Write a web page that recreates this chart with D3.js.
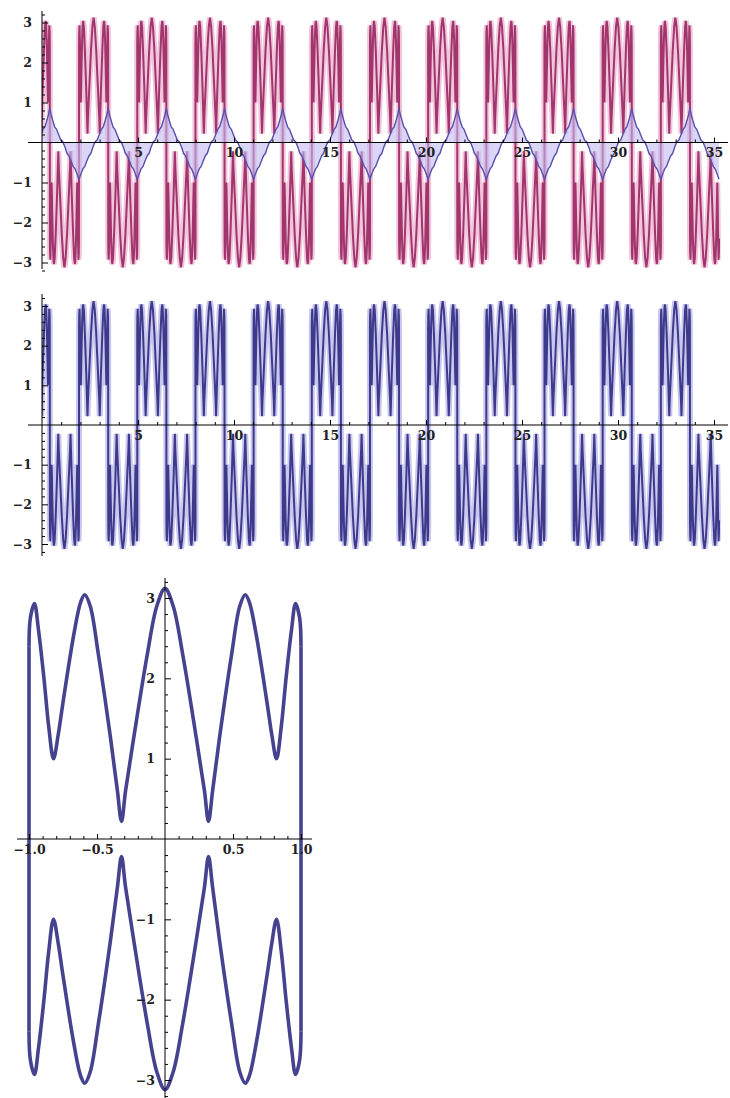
<!DOCTYPE html>
<html>
<head>
<meta charset="utf-8">
<script src="https://cdn.jsdelivr.net/npm/d3@7"></script>
<style>
  body { margin: 0; background: #fff; }
  svg { display: block; }
  .tick text { font-family: "DejaVu Serif", serif; font-size: 12.5px; font-weight: bold; fill: #222; }
</style>
</head>
<body>
<script>
//one branch of the closed curve (bottom panel)
const shapeU = [-1.0, -0.99, -0.96, -0.93, -0.89, -0.855, -0.82, -0.785, -0.75, -0.67, -0.62,
  -0.59, -0.55, -0.49, -0.4, -0.35, -0.32, -0.29, -0.23, -0.13, -0.06, 0,
  0.06, 0.13, 0.23, 0.29, 0.32, 0.35, 0.4, 0.49, 0.55, 0.59, 0.62, 0.67,
  0.75, 0.785, 0.82, 0.855, 0.89, 0.93, 0.96, 0.99, 1.0];
const upperY = [2.4, 2.75, 2.93, 2.6, 2.0, 1.4, 1.0, 1.3, 1.7, 2.55, 2.95,
  3.04, 2.9, 2.3, 1.25, 0.6, 0.22, 0.6, 1.26, 2.3, 2.9, 3.12,
  2.9, 2.3, 1.26, 0.6, 0.22, 0.6, 1.25, 2.3, 2.9, 3.04, 2.95, 2.55,
  1.7, 1.3, 1.0, 1.4, 2.0, 2.6, 2.93, 2.75, 2.4];
const lowerY = [-2.4, -2.75, -2.93, -2.6, -2.0, -1.4, -1.0, -1.3, -1.7, -2.55, -2.95,
  -3.04, -2.9, -2.3, -1.25, -0.6, -0.22, -0.6, -1.26, -2.3, -2.9, -3.12,
  -2.9, -2.3, -1.26, -0.6, -0.22, -0.6, -1.25, -2.3, -2.9, -3.04, -2.95, -2.55,
  -1.7, -1.3, -1.0, -1.4, -2.0, -2.6, -2.93, -2.75, -2.4];

//where the same points sit inside one bundle of the strip panels (-1 left edge, 1 right edge)
const bundlePos = [-1.0, -0.99, -0.965, -0.945, -0.92, -0.9, -0.88, -0.86, -0.84, -0.79, -0.75,
  -0.72, -0.67, -0.6, -0.5, -0.45, -0.42, -0.39, -0.31, -0.18, -0.08, 0,
  0.08, 0.18, 0.31, 0.39, 0.42, 0.45, 0.5, 0.6, 0.67, 0.72, 0.75, 0.79,
  0.84, 0.86, 0.88, 0.9, 0.92, 0.945, 0.965, 0.99, 1.0];

//bundle edges in the two strip panels (x units)
const upperStarts = [-1.11, 1.93, 4.96, 7.99, 11.02, 14.05, 17.08, 20.11, 23.14, 26.17, 29.2, 32.23];
const lowerStarts = [0.41, 3.45, 6.48, 9.51, 12.54, 15.57, 18.6, 21.63, 24.66, 27.69, 30.72, 33.75];
const bundleWidth = 1.515;

//staircase curve of the top panel, one cycle from each upper bundle start
const blueOffsets = [0, 0.1, 0.2, 0.3, 0.4, 0.52, 0.62, 0.72, 0.84, 0.94, 1.04, 1.16, 1.26, 1.36, 1.44, 1.515,
  1.59, 1.67, 1.77, 1.87, 1.99, 2.09, 2.19, 2.31, 2.41, 2.51, 2.63, 2.73, 2.83, 2.93, 3.03];
const blueValues = [-0.92, -0.78, -0.66, -0.6, -0.47, -0.33, -0.27, -0.12, 0.02, 0.06, 0.18, 0.33, 0.39, 0.55, 0.68, 0.85,
  0.68, 0.55, 0.39, 0.33, 0.18, 0.06, 0.02, -0.12, -0.27, -0.33, -0.47, -0.6, -0.66, -0.78, -0.92];

//tick labels
const stripXTicks = [5, 10, 15, 20, 25, 30, 35];
const stripYTicks = [-3, -2, -1, 1, 2, 3];
const loopXTicks = [-1, -0.5, 0.5, 1];
const loopYTicks = [-3, -2, -1, 1, 2, 3];

const W = 730, H = 1098;
const xEnd = 35.35;

const svg = d3.select("body").append("svg")
  .attr("width", W)
  .attr("height", H);
svg.append("rect").attr("width", W).attr("height", H).attr("fill", "#fff");

//scales
const x12 = d3.scaleLinear().domain([0, 35]).range([42, 714]);
const y1 = d3.scaleLinear().domain([-3, 3]).range([262.5, 22.5]);
const y2 = d3.scaleLinear().domain([-3, 3]).range([544, 306]);
const x3 = d3.scaleLinear().domain([-1, 1]).range([29, 301]);
const y3 = d3.scaleLinear().domain([-3, 3]).range([1080, 598]);

svg.append("clipPath").attr("id", "strip")
  .append("rect")
  .attr("x", x12(0)).attr("y", 0)
  .attr("width", x12(xEnd) - x12(0)).attr("height", 570);

//strip points: every bundle carries the loop branch
const bundles = upperStarts.map(s => ({ s, vals: upperY }))
  .concat(lowerStarts.map(s => ({ s, vals: lowerY })))
  .sort((a, b) => a.s - b.s);
const stripPts = bundles.flatMap(b =>
  bundlePos.map((p, i) => [b.s + (p + 1) / 2 * bundleWidth, b.vals[i]]));

const bluePts = upperStarts.flatMap(s =>
  blueOffsets.map((o, i) => [s + o, blueValues[i]]));

function stripLine(y) {
  return d3.line().x(d => x12(d[0])).y(d => y(d[1]));
}

//top panel
const g1 = svg.append("g").attr("clip-path", "url(#strip)");
g1.append("path").datum(stripPts)
  .attr("d", stripLine(y1))
  .attr("fill", "none").attr("stroke", "#eeb6d3").attr("stroke-width", 6)
  .attr("stroke-opacity", 0.8);
g1.append("path").datum(stripPts)
  .attr("d", stripLine(y1))
  .attr("fill", "none").attr("stroke", "#a1356c").attr("stroke-width", 2);
g1.append("path").datum(bluePts)
  .attr("d", d3.area().x(d => x12(d[0])).y0(y1(0)).y1(d => y1(d[1])))
  .attr("fill", "#c3baf0").attr("fill-opacity", 0.6);
g1.append("path").datum(bluePts)
  .attr("d", stripLine(y1))
  .attr("fill", "none").attr("stroke", "#5750ae").attr("stroke-width", 1.4);

//middle panel
const g2 = svg.append("g").attr("clip-path", "url(#strip)");
g2.append("path").datum(stripPts)
  .attr("d", stripLine(y2))
  .attr("fill", "none").attr("stroke", "#bcb9ea").attr("stroke-width", 6)
  .attr("stroke-opacity", 0.8);
g2.append("path").datum(stripPts)
  .attr("d", stripLine(y2))
  .attr("fill", "none").attr("stroke", "#3d3a8c").attr("stroke-width", 2);

//bottom panel: closed loop
const g3 = svg.append("g");
const loopLine = d3.line().x(d => x3(d[0])).y(d => y3(d[1])).curve(d3.curveCatmullRom);
const loopStyle = sel => sel.attr("fill", "none").attr("stroke", "#45438f")
  .attr("stroke-width", 3.6).attr("stroke-linejoin", "round");
g3.append("path").datum(shapeU.map((u, i) => [u, upperY[i]])).attr("d", loopLine).call(loopStyle);
g3.append("path").datum(shapeU.map((u, i) => [u, lowerY[i]])).attr("d", loopLine).call(loopStyle);
[0, shapeU.length - 1].forEach(i => {
  g3.append("line")
    .attr("x1", x3(shapeU[i])).attr("x2", x3(shapeU[i]))
    .attr("y1", y3(upperY[i])).attr("y2", y3(lowerY[i]))
    .call(loopStyle);
});

//axes, mathematica style: ticks pointing into the plot, labels outside
function axes(x, y, o) {
  const g = svg.append("g");
  g.append("line").attr("x1", o.xLine[0]).attr("x2", o.xLine[1])
    .attr("y1", y(0)).attr("y2", y(0)).attr("stroke", "#000");
  g.append("line").attr("x1", x(0)).attr("x2", x(0))
    .attr("y1", o.yLine[0]).attr("y2", o.yLine[1]).attr("stroke", "#000");

  const xa = g.append("g").attr("transform", `translate(0,${y(0)})`);
  xa.append("g").call(d3.axisBottom(x).tickValues(o.xMinor).tickSize(-3).tickFormat(""));
  xa.append("g").call(d3.axisBottom(x).tickValues(o.xTicks).tickSize(-5).tickPadding(6)
    .tickFormat(o.xFormat));
  const ya = g.append("g").attr("transform", `translate(${x(0)},0)`);
  ya.append("g").call(d3.axisLeft(y).tickValues(o.yMinor).tickSize(-3).tickFormat(""));
  ya.append("g").call(d3.axisLeft(y).tickValues(o.yTicks).tickSize(-6).tickPadding(o.yPad)
    .tickFormat(d3.format("d")));

  g.selectAll(".domain").remove();
  g.selectAll(".tick line").attr("stroke", "#000");
  g.selectAll("g").attr("font-family", null).attr("font-size", null);
}

const stripXMinor = d3.range(1, 36).filter(v => v % 5 !== 0);
const stripYMinor = d3.range(-16, 17).filter(v => v % 5 !== 0).map(v => v / 5);

axes(x12, y1, {
  xLine: [28, 728], yLine: [11, 269],
  xTicks: stripXTicks, xMinor: stripXMinor, xFormat: d3.format("d"),
  yTicks: stripYTicks, yMinor: stripYMinor, yPad: 10
});
axes(x12, y2, {
  xLine: [28, 728], yLine: [294, 556],
  xTicks: stripXTicks, xMinor: stripXMinor, xFormat: d3.format("d"),
  yTicks: stripYTicks, yMinor: stripYMinor, yPad: 10
});
axes(x3, y3, {
  xLine: [17, 312], yLine: [578, 1098],
  xTicks: loopXTicks, xMinor: d3.range(-10, 11).filter(v => v % 5 !== 0).map(v => v / 10),
  xFormat: d3.format(".1f"),
  yTicks: loopYTicks, yMinor: stripYMinor, yPad: 10
});
</script>
</body>
</html>
